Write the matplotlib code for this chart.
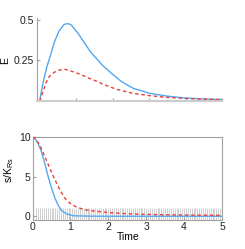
import numpy as np
import matplotlib
matplotlib.use("Agg")
import matplotlib.pyplot as plt

plt.rcParams['font.family'] = ['Liberation Sans', 'DejaVu Sans']
plt.rcParams['mathtext.default'] = 'regular'

# top panel: E(t)
t_E_fast = [0.0, 0.03, 0.12, 0.21, 0.31, 0.40, 0.53, 0.67, 0.76, 0.85, 1.04, 1.22,
            1.40, 1.58, 1.72, 1.97, 2.24, 2.57, 3.03, 3.48, 3.94, 4.40, 5.0]
E_fast = [0.0, 0.04, 0.14, 0.22, 0.29, 0.36, 0.43, 0.47, 0.475, 0.47, 0.42, 0.36,
          0.30, 0.255, 0.22, 0.17, 0.12, 0.078, 0.047, 0.031, 0.02, 0.014, 0.01]

t_E_slow = [0.0, 0.08, 0.17, 0.26, 0.40, 0.53, 0.67, 0.85, 1.04, 1.22, 1.40, 1.58,
            1.72, 2.11, 2.57, 3.03, 3.48, 3.94, 4.40, 5.0]
E_slow = [0.0, 0.05, 0.11, 0.15, 0.177, 0.19, 0.196, 0.185, 0.17, 0.154, 0.136, 0.12,
          0.105, 0.072, 0.047, 0.033, 0.023, 0.017, 0.012, 0.009]

# bottom panel: s/K_Rs
t_s_fast = [0.0, 0.03, 0.14, 0.23, 0.32, 0.41, 0.50, 0.59, 0.67, 0.76, 0.90, 1.07,
            1.5, 2.0, 3.0, 4.0, 5.0]
s_fast = [10.0, 10.0, 9.24, 8.2, 6.7, 5.04, 3.57, 2.3, 1.46, 0.75, 0.3, 0.08,
          0.03, 0.02, 0.02, 0.02, 0.02]

t_s_slow = [0.0, 0.05, 0.19, 0.32, 0.45, 0.59, 0.72, 0.85, 0.98, 1.16, 1.38, 1.69,
            2.09, 2.53, 3.0, 3.5, 4.0, 4.5, 5.0]
s_slow = [10.0, 9.9, 9.0, 7.57, 6.1, 4.6, 3.35, 2.3, 1.68, 1.17, 0.83, 0.63,
          0.45, 0.32, 0.25, 0.2, 0.17, 0.15, 0.14]

# gray event marks along the bottom
event_t = np.arange(0.1, 5.0, 0.05)
event_top = 1.0

blue = '#55a8f0'
red = '#e8403a'
spine_col = '#a0a0a0'

fig = plt.figure(figsize=(2.45, 2.49), dpi=100)

ax1 = fig.add_axes([0.150, 0.594, 0.756, 0.334])
ax1.plot(t_E_fast, E_fast, color=blue, lw=1.0)
ax1.plot(t_E_slow, E_slow, color=red, lw=1.0, ls=(0, (2.5, 2)))
ax1.set_xlim(-0.08, 5.0)
ax1.set_ylim(0, 0.51)
ax1.set_xticks([1, 2, 3, 4, 5])
ax1.set_xticklabels([])
ax1.set_yticks([0.25, 0.5])
ax1.set_yticklabels(['0.25', '0.5'])
for s in ['top', 'right']:
    ax1.spines[s].set_visible(False)
ax1.spines['left'].set_color(spine_col)
ax1.spines['bottom'].set_color('#cccccc')
ax1.spines['bottom'].set_linewidth(1.5)
ax1.tick_params(direction='in', length=2, colors=spine_col, labelcolor='#222222',
                labelsize=7.5, pad=2)
ax1.set_ylabel('E', fontsize=7.5)
ax1.yaxis.set_label_coords(-0.145, 0.49)

ax2 = fig.add_axes([0.133, 0.115, 0.773, 0.335])
ax2.vlines(event_t, -0.5, event_top, color='#c8c8c8', lw=0.6, zorder=1)
ax2.plot(t_s_fast, s_fast, color=blue, lw=1.0, zorder=3)
ax2.plot(t_s_slow, s_slow, color=red, lw=1.0, ls=(0, (2.5, 2)), zorder=3)
ax2.set_xlim(0, 5)
ax2.set_ylim(-0.5, 10)
ax2.set_xticks([0, 1, 2, 3, 4, 5])
ax2.set_yticks([0, 5, 10])
for s in ax2.spines.values():
    s.set_color(spine_col)
ax2.tick_params(direction='in', length=2, colors=spine_col, labelcolor='#222222',
                labelsize=7.5, pad=1.5)
ax2.set_ylabel('s/K$_{Rs}$', fontsize=7.5)
ax2.yaxis.set_label_coords(-0.085, 0.60)
ax2.set_xlabel('Time', fontsize=7.5)
ax2.xaxis.set_label_coords(0.503, -0.14)

fig.savefig('out.png', dpi=100)
